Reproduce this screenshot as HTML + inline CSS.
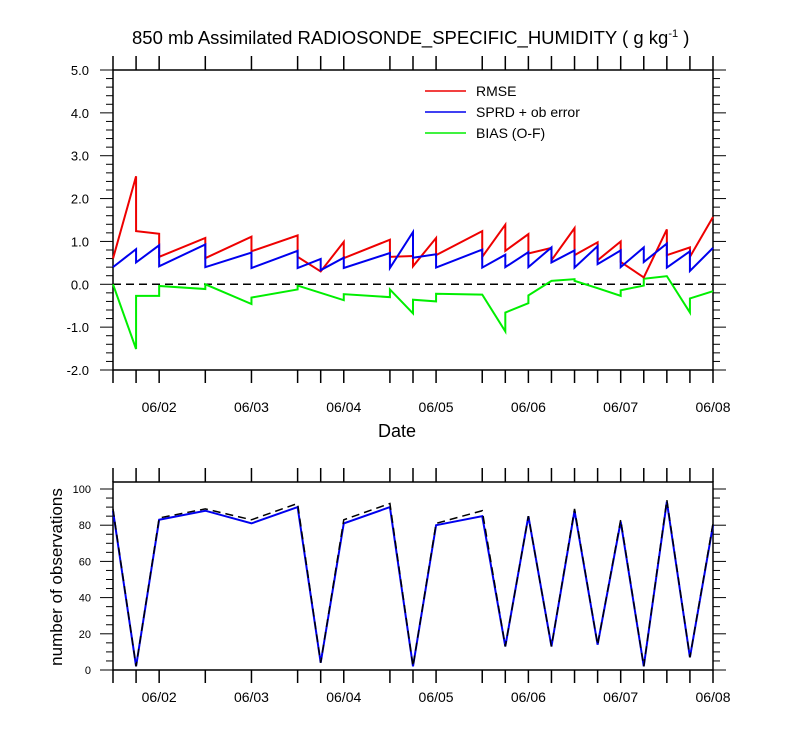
<!DOCTYPE html>
<html><head><meta charset="utf-8">
<style>
body{margin:0;background:#fff;}
svg{display:block;font-family:"Liberation Sans",sans-serif;}
</style></head>
<body>
<svg id="chart" width="800" height="750" viewBox="0 0 800 750"></svg>
<script>
// ---- data ----
const tickHours = [0,6,12,24,36,48,54,60,72,78,84,96,102,108,114,120,126,132,138,144,150,156];
const dateLabels = ["06/02","06/03","06/04","06/05","06/06","06/07","06/08"];
const dateHours = [12,36,60,84,108,132,156];
const yTicksTop = [5,4,3,2,1,0,-1,-2];
const yTicksBot = [0,20,40,60,80,100];

const rmseT = [0,6,6,12,12,24,24,36,36,48,48,54,60,60,72,72,78,78,84,84,96,96,102,102,108,108,114,114,120,120,126,126,132,132,138,144,144,150,150,156];
const rmseV = [0.6,2.52,1.24,1.18,0.64,1.08,0.61,1.11,0.77,1.14,0.64,0.30,0.99,0.61,1.04,0.64,0.66,0.42,1.08,0.68,1.24,0.64,1.39,0.78,1.17,0.72,0.85,0.56,1.31,0.68,0.98,0.56,1.0,0.52,0.16,1.28,0.68,0.86,0.64,1.57];
const sprdT = [0,6,6,12,12,24,24,36,36,48,48,54,54,60,60,72,72,78,78,84,84,96,96,102,102,108,108,114,114,120,120,126,126,132,132,138,138,144,144,150,150,156];
const sprdV = [0.40,0.82,0.51,0.91,0.42,0.93,0.40,0.74,0.38,0.78,0.38,0.59,0.33,0.62,0.38,0.73,0.38,1.22,0.62,0.70,0.39,0.81,0.39,0.69,0.40,0.75,0.40,0.86,0.51,0.79,0.39,0.89,0.47,0.79,0.40,0.86,0.52,0.95,0.39,0.77,0.31,0.85];
const biasT = [0,6,6,12,12,24,24,36,36,48,48,60,60,72,72,78,78,84,84,96,102,102,108,108,114,120,120,126,132,132,138,138,144,150,150,156];
const biasV = [0,-1.51,-0.27,-0.27,-0.04,-0.11,0.0,-0.46,-0.31,-0.12,-0.03,-0.37,-0.23,-0.30,-0.12,-0.68,-0.36,-0.40,-0.22,-0.24,-1.10,-0.66,-0.44,-0.26,0.08,0.12,0.08,-0.09,-0.27,-0.14,-0.03,0.13,0.19,-0.66,-0.33,-0.16];

const obsHours = [0,6,12,24,36,48,54,60,72,78,84,96,102,108,114,120,126,132,138,144,150,156];
const obsUsed = [88,2,83,88,81,90,4,81,90,2,80,85,13,85,13,88,14,82,2,93,7,80];
const obsPossible = [89,2,84,89,83,92,4,83,92,2,81,88,13,85,13,89,14,83,2,94,7,81];

// ---- axes ----
const X0=113, X1=713, H0=0, H1=156;
const xs = h => X0 + (h-H0)*(X1-X0)/(H1-H0);
const TT=70, TB=370, ys = v => TB - (v-(-2))*(TB-TT)/7;
const BT=482, BB=670, yb = v => BB - v*(BB-489)/100;

const svg=document.getElementById('chart');
const NS="http://www.w3.org/2000/svg";
function mk(tag,attrs,parent){const e=document.createElementNS(NS,tag);for(const k in attrs)e.setAttribute(k,attrs[k]);(parent||svg).appendChild(e);return e;}
function txt(s,attrs,parent){const e=mk('text',attrs,parent);e.textContent=s;return e;}

// title
const title=txt('850 mb Assimilated RADIOSONDE_SPECIFIC_HUMIDITY ( g kg',{x:132,y:44,'font-size':18.5});


const sup=mk('tspan',{dy:-7,'font-size':11},title);sup.textContent='-1';
const rest=mk('tspan',{dy:7,'font-size':18.5},title);rest.textContent=' )';

function frame(top,bot,name){
  const g=mk('g',{});
  
  
  mk('rect',{x:X0,y:top,width:X1-X0,height:bot-top,fill:'none',stroke:'#000','stroke-width':1.5},g);
  tickHours.forEach(h=>{
    const x=xs(h);
    mk('line',{x1:x,y1:bot,x2:x,y2:bot+13,stroke:'#000','stroke-width':1.5},g);
    mk('line',{x1:x,y1:top,x2:x,y2:top-14,stroke:'#000','stroke-width':1.5},g);
  });
  return g;
}
function dates(y,name){
  dateHours.forEach((h,i)=>{
    const t=txt(dateLabels[i],{x:xs(h),y:y,'font-size':14,'text-anchor':'middle'});
    
    
  });
}
function poly(T,V,xf,yf,color,w,dash,name){
  const p=mk('polyline',{points:T.map((t,i)=>xf(t)+','+yf(V[i])).join(' '),fill:'none',stroke:color,'stroke-width':w,'stroke-linejoin':'miter'});
  if(dash)p.setAttribute('stroke-dasharray',dash);
  
  
  return p;
}

// ---- top plot ----
const gt=frame(TT,TB,'top-plot-frame');
for(let v=-2;v<=5.001;v+=0.2){
  const y=ys(v), major=Math.abs(v-Math.round(v))<1e-6;
  const L=major?13:7;
  mk('line',{x1:X0,y1:y,x2:X0-L,y2:y,stroke:'#000','stroke-width':1},gt);
  mk('line',{x1:X1,y1:y,x2:X1+L,y2:y,stroke:'#000','stroke-width':1},gt);
}
yTicksTop.forEach(v=>{
  const t=txt(v.toFixed(1),{x:89,y:ys(v)+5,'font-size':13,'text-anchor':'end'});
  
  
});
dates(412,'x-tick-label');
const zl=mk('line',{x1:X0,y1:ys(0),x2:X1,y2:ys(0),stroke:'#000','stroke-width':1.5,'stroke-dasharray':'8,5'});


poly(biasT,biasV,xs,ys,'#00ee00',2,null,'bias-line');
poly(rmseT,rmseV,xs,ys,'#ee0000',2,null,'rmse-line');
poly(sprdT,sprdV,xs,ys,'#0000ee',2,null,'sprd-line');
const dl=txt('Date',{x:397,y:437,'font-size':18,'text-anchor':'middle'});



// legend
const leg=[['RMSE','#ee0000'],['SPRD + ob error','#0000ee'],['BIAS (O-F)','#00ee00']];
leg.forEach((l,i)=>{
  const g=mk('g',{});
  
  
  const y=91+i*21;
  mk('line',{x1:425,y1:y,x2:466,y2:y,stroke:l[1],'stroke-width':1.5},g);
  txt(l[0],{x:476,y:y+5,'font-size':14},g);
});

// ---- bottom plot ----
const gb=frame(BT,BB,'bottom-plot-frame');
for(let v=0;v<=100;v+=5){
  const y=yb(v), major=v%20===0, L=major?13:7;
  mk('line',{x1:X0,y1:y,x2:X0-L,y2:y,stroke:'#000','stroke-width':1},gb);
  mk('line',{x1:X1,y1:y,x2:X1+L,y2:y,stroke:'#000','stroke-width':1},gb);
}
yTicksBot.forEach(v=>{
  const t=txt(String(v),{x:91,y:yb(v)+4,'font-size':11,'text-anchor':'end'});
  
  
});
dates(702,'obs-x-tick-label');
poly(obsHours,obsUsed,xs,yb,'#0000ee',2,null,'obs-used-line');
poly(obsHours,obsPossible,xs,yb,'#000',1.5,'8,5','obs-possible-line');
const yl=txt('number of observations',{x:0,y:0,'font-size':17,'text-anchor':'middle',transform:'translate(62,577) rotate(-90)'});


</script>
</body></html>
